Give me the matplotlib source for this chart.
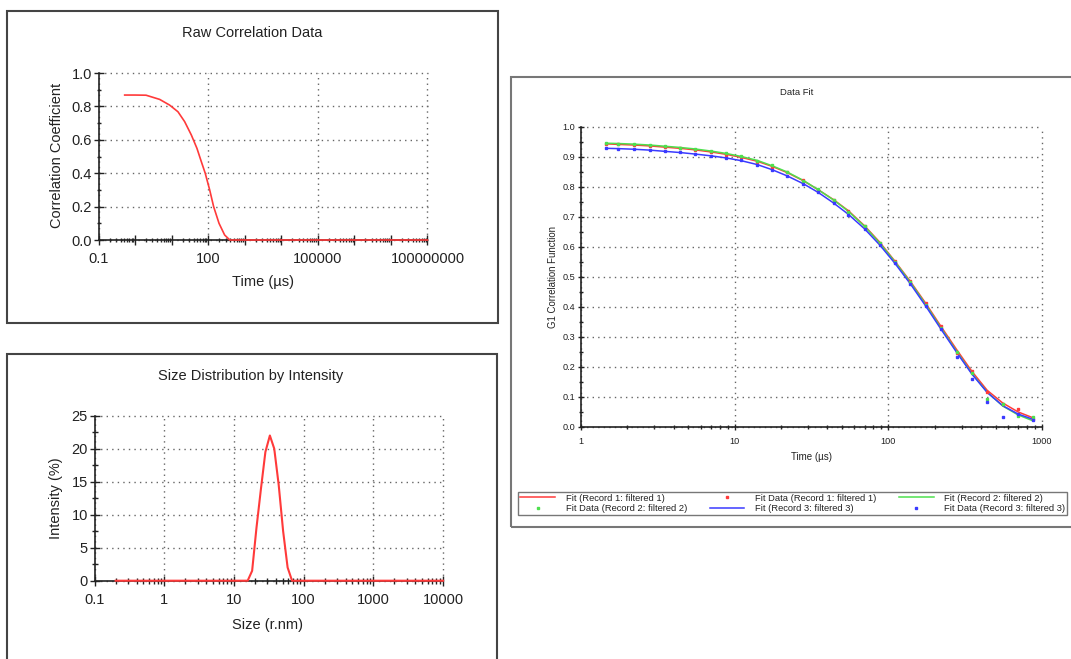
import numpy as np
import matplotlib
matplotlib.use('Agg')
import matplotlib.pyplot as plt
from matplotlib.patches import Rectangle
from matplotlib.ticker import LogLocator, MultipleLocator, NullFormatter

plt.rcParams['font.family'] = ['Liberation Sans', 'DejaVu Sans']

# ---- data ----
# Raw correlation data
raw_tau = [0.52, 1.0, 2.0, 4.7, 8.8, 14.9, 22.7, 34.6, 49.3, 65, 83, 110, 141, 198, 282, 390, 1e8]
raw_coef = [0.868, 0.868, 0.867, 0.842, 0.808, 0.768, 0.709, 0.629, 0.549, 0.469, 0.40,
            0.30, 0.20, 0.10, 0.03, 0.0, 0.0]

# Size distribution by intensity
size_nm = [0.2, 15.7, 18.2, 21.0, 24.4, 28.2, 32.7, 37.8, 43.8, 50.7, 58.8, 68.1, 10000]
intensity = [0, 0, 1.5, 8.0, 14.0, 19.5, 22.0, 20.0, 14.5, 7.5, 2.0, 0, 0]

# Data fit (G1)
fit_tau = [1.45, 1.75, 2.2, 2.8, 3.5, 4.4, 5.5, 7.0, 8.8, 11, 14, 17.5, 22, 28, 35, 44, 55,
           70, 88, 110, 139, 175, 220, 278, 350, 440, 555, 700, 880]
fit1 = [0.943, 0.941, 0.939, 0.936, 0.932, 0.928, 0.923, 0.916, 0.908, 0.898, 0.885, 0.868,
        0.847, 0.820, 0.790, 0.757, 0.720, 0.670, 0.615, 0.553, 0.485, 0.412, 0.335, 0.258,
        0.185, 0.122, 0.080, 0.050, 0.030]
fit2 = [0.945, 0.944, 0.942, 0.939, 0.935, 0.931, 0.926, 0.919, 0.911, 0.901, 0.888, 0.870,
        0.849, 0.821, 0.790, 0.756, 0.718, 0.668, 0.612, 0.551, 0.482, 0.408, 0.330, 0.252,
        0.178, 0.116, 0.070, 0.040, 0.020]
fit3 = [0.928, 0.927, 0.925, 0.922, 0.918, 0.914, 0.909, 0.903, 0.896, 0.887, 0.874, 0.857,
        0.836, 0.810, 0.781, 0.746, 0.708, 0.660, 0.606, 0.546, 0.477, 0.403, 0.326, 0.249,
        0.176, 0.115, 0.071, 0.043, 0.025]
data1 = [0.944, 0.941, 0.940, 0.936, 0.931, 0.928, 0.924, 0.915, 0.907, 0.899, 0.884, 0.867,
         0.848, 0.821, 0.789, 0.757, 0.719, 0.668, 0.614, 0.552, 0.486, 0.413, 0.336, 0.246,
         0.185, 0.118, 0.078, 0.060, 0.028]
data2 = [0.946, 0.944, 0.941, 0.940, 0.936, 0.930, 0.927, 0.920, 0.912, 0.902, 0.887, 0.871,
         0.850, 0.820, 0.791, 0.755, 0.717, 0.669, 0.613, 0.550, 0.483, 0.407, 0.331, 0.251,
         0.179, 0.092, 0.075, 0.035, 0.033]
data3 = [0.929, 0.927, 0.926, 0.921, 0.918, 0.915, 0.908, 0.903, 0.895, 0.888, 0.873, 0.856,
         0.837, 0.809, 0.782, 0.745, 0.707, 0.659, 0.607, 0.545, 0.476, 0.402, 0.327, 0.232,
         0.159, 0.084, 0.032, 0.043, 0.024]

RED = '#ff3a3a'
GREEN = '#4ee04e'
BLUE = '#3a3aff'
TXT = '#222222'
GRID = '#666666'
GRID_LS = (0, (1, 3))

W, H = 1071, 659
fig = plt.figure(figsize=(W / 100, H / 100), dpi=100)


def fx(px):
    return px / W


def fy(py):
    return 1 - py / H


def axes_px(x0, x1, ytop, ybot):
    return fig.add_axes([fx(x0), fy(ybot), (x1 - x0) / W, (ybot - ytop) / H])


def frame(x0, y0, x1, y1, color, lw):
    fig.add_artist(Rectangle((fx(x0), fy(y1)), (x1 - x0) / W, (y1 - y0) / H,
                             transform=fig.transFigure, fill=False,
                             edgecolor=color, linewidth=lw, clip_on=False))


def style(ax, fs, mlen, nlen, xpad, ypad, xgrid=True):
    for s in ['top', 'right']:
        ax.spines[s].set_visible(False)
    for s in ['left', 'bottom']:
        ax.spines[s].set_color(TXT)
        ax.spines[s].set_linewidth(1.2)
    ax.tick_params(which='major', direction='inout', length=mlen, width=1,
                   colors=TXT, labelsize=fs)
    ax.tick_params(which='minor', direction='inout', length=nlen, width=1, colors=TXT)
    ax.tick_params(axis='x', pad=xpad)
    ax.tick_params(axis='y', pad=ypad)
    ax.grid(True, axis='both' if xgrid else 'y', which='major', color=GRID,
            linestyle=GRID_LS, linewidth=1, clip_on=False)
    ax.set_axisbelow(True)


# ---- frames ----
frame(7.3, 11, 498.3, 323.3, '#444444', 1.5)
frame(6.7, 354, 497, 680, '#444444', 1.5)
frame(510.7, 76.7, 1090, 526.7, '#777777', 1.5)

# ---- panel 1: raw correlation ----
ax1 = axes_px(98.5, 427.5, 73, 240)
ax1.plot(raw_tau, raw_coef, color=RED, lw=1.2, zorder=3, clip_on=False)
ax1.set_xscale('log')
ax1.set_xlim(0.1, 1e8)
ax1.set_ylim(0, 1)
decades = 10.0 ** np.arange(-1, 9)
labelled = {0.1: '0.1', 100: '100', 1e5: '100000', 1e8: '100000000'}
ax1.set_xticks(decades, [labelled.get(round(d, 6), '') for d in decades])
ax1.xaxis.set_minor_locator(LogLocator(base=10, subs=np.arange(2, 10), numticks=200))
ax1.xaxis.set_minor_formatter(NullFormatter())
ax1.set_yticks(np.arange(0, 1.01, 0.2), ['0.0', '0.2', '0.4', '0.6', '0.8', '1.0'])
ax1.yaxis.set_minor_locator(MultipleLocator(0.1))
style(ax1, 10.5, 7, 3, 5.0, 1.2, xgrid=False)
for v in labelled:
    ax1.axvline(v, color=GRID, linestyle=GRID_LS, linewidth=1, zorder=0.5, clip_on=False)
fig.text(fx(252), fy(33), 'Raw Correlation Data', ha='center', va='center', fontsize=10.5, color=TXT)
fig.text(fx(263.3), fy(282), 'Time (µs)', ha='center', va='center', fontsize=10.5, color=TXT)
fig.text(fx(56.7), fy(155), 'Correlation Coefficient', ha='center', va='center',
         rotation=90, fontsize=10.5, color=TXT)

# ---- panel 2: size distribution ----
ax2 = axes_px(94.7, 443, 415.7, 580.7)
ax2.plot(size_nm, intensity, color=RED, lw=1.5, zorder=3, clip_on=False)
ax2.set_xscale('log')
ax2.set_xlim(0.1, 10000)
ax2.set_ylim(0, 25)
ax2.set_xticks([0.1, 1, 10, 100, 1000, 10000], ['0.1', '1', '10', '100', '1000', '10000'])
ax2.xaxis.set_minor_locator(LogLocator(base=10, subs=np.arange(2, 10), numticks=200))
ax2.xaxis.set_minor_formatter(NullFormatter())
ax2.set_yticks(np.arange(0, 26, 5))
ax2.yaxis.set_minor_locator(MultipleLocator(2.5))
style(ax2, 10.5, 7, 5, 5.0, 1.5)
fig.text(fx(251), fy(376), 'Size Distribution by Intensity', ha='center', va='center',
         fontsize=10.5, color=TXT)
fig.text(fx(267.5), fy(625), 'Size (r.nm)', ha='center', va='center', fontsize=10.5, color=TXT)
fig.text(fx(56), fy(498.3), 'Intensity (%)', ha='center', va='center', rotation=90,
         fontsize=10.5, color=TXT)

# ---- panel 3: data fit ----
ax3 = axes_px(581, 1042, 126.7, 427)
ax3.plot(fit_tau, fit1, color=RED, lw=1.1, zorder=3, label='Fit (Record 1: filtered 1)')
ax3.plot(fit_tau, data1, color=RED, ls='none', marker='s', ms=1.8, zorder=4,
         label='Fit Data (Record 1: filtered 1)')
ax3.plot(fit_tau, fit2, color=GREEN, lw=1.1, zorder=3, label='Fit (Record 2: filtered 2)')
ax3.plot(fit_tau, data2, color=GREEN, ls='none', marker='s', ms=1.8, zorder=4,
         label='Fit Data (Record 2: filtered 2)')
ax3.plot(fit_tau, fit3, color=BLUE, lw=1.1, zorder=3, label='Fit (Record 3: filtered 3)')
ax3.plot(fit_tau, data3, color=BLUE, ls='none', marker='s', ms=1.8, zorder=4,
         label='Fit Data (Record 3: filtered 3)')
ax3.set_xscale('log')
ax3.set_xlim(1, 1000)
ax3.set_ylim(0, 1)
ax3.set_xticks([1, 10, 100, 1000], ['1', '10', '100', '1000'])
ax3.xaxis.set_minor_locator(LogLocator(base=10, subs=np.arange(2, 10), numticks=200))
ax3.xaxis.set_minor_formatter(NullFormatter())
ax3.set_yticks(np.arange(0, 1.01, 0.1), ['%.1f' % v for v in np.arange(0, 1.01, 0.1)])
ax3.yaxis.set_minor_locator(MultipleLocator(0.05))
style(ax3, 6.6, 5, 3, 5.0, 1.6)
fig.text(fx(797), fy(92.5), 'Data Fit', ha='center', va='center', fontsize=6.8, color=TXT)
fig.text(fx(811.7), fy(456.7), 'Time (µs)', ha='center', va='center', fontsize=7.0, color=TXT)
fig.text(fx(553), fy(276.7), 'G1 Correlation Function', ha='center', va='center',
         rotation=90, fontsize=6.9, color=TXT)

handles, labels = ax3.get_legend_handles_labels()
order = [0, 3, 1, 4, 2, 5]
leg = ax3.legend([handles[i] for i in order], [labels[i] for i in order], ncol=3,
                 loc='upper left', bbox_to_anchor=(fx(518.3), fy(491.7)),
                 bbox_transform=fig.transFigure, borderaxespad=0, borderpad=0.2,
                 fontsize=6.75, handlelength=3.7, handletextpad=1.15, columnspacing=2.4,
                 labelspacing=0.15, frameon=True, fancybox=False, numpoints=1)
leg.get_frame().set_edgecolor('#555555')
leg.get_frame().set_linewidth(1.0)
for t in leg.get_texts():
    t.set_color(TXT)

fig.savefig('out.png', dpi=100)
